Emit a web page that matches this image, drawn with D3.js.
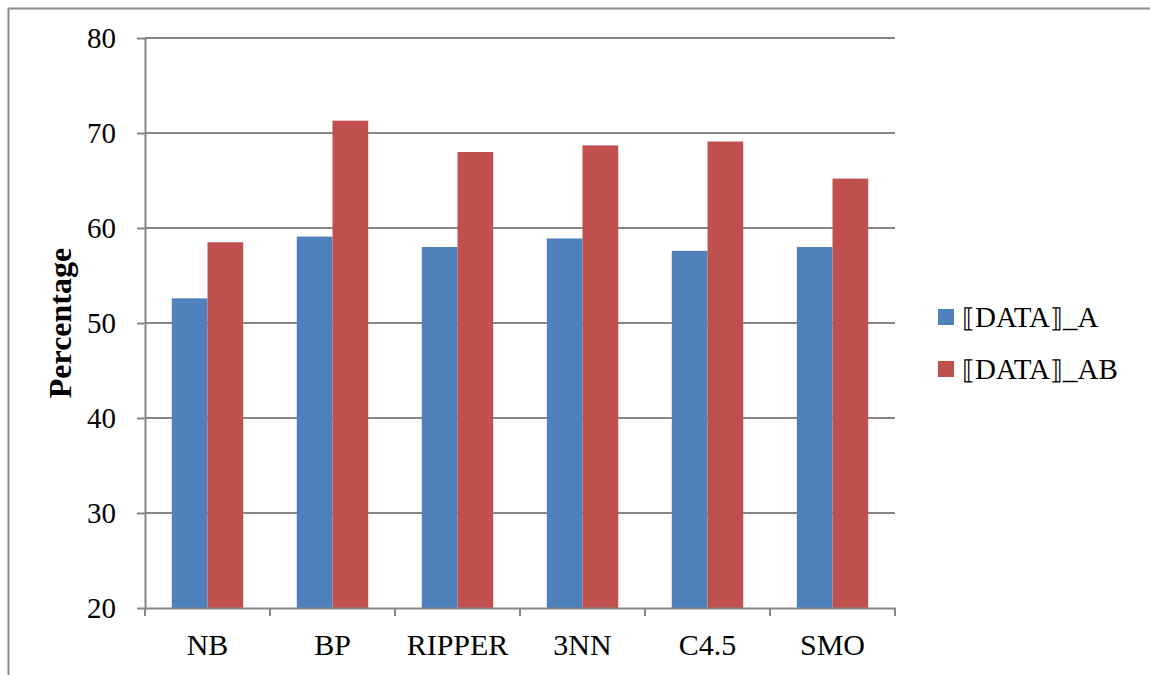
<!DOCTYPE html>
<html>
<head>
<meta charset="utf-8">
<script src="https://cdn.jsdelivr.net/npm/d3@7"></script>
<style>
  html, body { margin: 0; padding: 0; background: #fff; }
  svg text { font-family: "Liberation Serif", "Times New Roman", serif; fill: #000; }
</style>
</head>
<body>
<svg id="chart" width="1150" height="675"></svg>
<script>
// ── Data ─────────────────────────────────────────────────────────────
const categories = ["NB", "BP", "RIPPER", "3NN", "C4.5", "SMO"];
const seriesNames = ["DATA_A", "DATA_AB"];   // shown as ⟦DATA⟧_A, ⟦DATA⟧_AB
const dataA  = [52.6, 59.1, 58.0, 58.9, 57.6, 58.0];
const dataAB = [58.5, 71.3, 68.0, 68.7, 69.1, 65.2];
const yTicks = [20, 30, 40, 50, 60, 70, 80];

const colors = ["#4F81BD", "#C0504D"];
const serif = "'Liberation Serif', 'Times New Roman', serif";
const W = 1150, H = 675;
const plot = { left: 145, right: 895, top: 38, bottom: 608 };

const svg = d3.select("#chart");

// outer frame (chart border, cropped on right/bottom)
svg.append("path")
    .attr("d", `M8.5,${H} L8.5,8.5 L${W},8.5`)
    .attr("fill", "none").attr("stroke", "#8c8c8c").attr("stroke-width", 2);

const x = d3.scaleBand().domain(categories).range([plot.left, plot.right]);
const groupW = x.bandwidth() * 2 / 3.5;           // gap width 150%
const xs = d3.scaleBand().domain([0, 1]).range([0, groupW]);
const y = d3.scaleLinear().domain([20, 80]).range([plot.bottom, plot.top]);

// ── Gridlines ────────────────────────────────────────────────────────
svg.append("g").selectAll("line")
    .data(yTicks.slice(1))
    .enter().append("line")
    .attr("x1", plot.left).attr("x2", plot.right)
    .attr("y1", d => y(d)).attr("y2", d => y(d))
    .attr("stroke", "#868686").attr("stroke-width", 2);

// ── Bars ─────────────────────────────────────────────────────────────
const rows = categories.map((c, i) => ({ cat: c, vals: [dataA[i], dataAB[i]] }));
const groups = svg.append("g").selectAll("g")
    .data(rows).enter().append("g")
    .attr("transform", d => `translate(${x(d.cat) + (x.bandwidth() - groupW) / 2},0)`);
groups.selectAll("rect")
    .data(d => d.vals.map((v, k) => ({ v, k })))
    .enter().append("rect")
    .attr("x", d => xs(d.k))
    .attr("width", xs.bandwidth())
    .attr("y", d => y(d.v))
    .attr("height", d => y(20) - y(d.v))
    .attr("fill", d => colors[d.k]);

// ── Axes ─────────────────────────────────────────────────────────────
const yAxis = svg.append("g")
    .attr("transform", `translate(${plot.left},0)`)
    .call(d3.axisLeft(y).tickValues(yTicks).tickSize(8).tickPadding(21).tickSizeOuter(0));
yAxis.attr("font-family", serif).attr("font-size", 29);
yAxis.select(".domain").attr("stroke", "#868686").attr("stroke-width", 2);
yAxis.selectAll(".tick line").attr("stroke", "#868686").attr("stroke-width", 2);
yAxis.selectAll(".tick text").style("font-family", serif).attr("dy", "0.34em");

const xAxis = svg.append("g")
    .attr("transform", `translate(0,${plot.bottom})`)
    .call(d3.axisBottom(x).tickSize(0).tickPadding(26));
xAxis.attr("font-family", serif).attr("font-size", 30);
xAxis.select(".domain").attr("stroke", "#868686").attr("stroke-width", 2);
xAxis.selectAll(".tick text").style("font-family", serif);
// category boundary ticks
svg.append("g").selectAll("line")
    .data(d3.range(categories.length + 1))
    .enter().append("line")
    .attr("x1", i => plot.left + i * x.step()).attr("x2", i => plot.left + i * x.step())
    .attr("y1", plot.bottom).attr("y2", plot.bottom + 8)
    .attr("stroke", "#868686").attr("stroke-width", 2);

// y label
svg.append("text")
    .attr("transform", `translate(71,${(plot.top + plot.bottom) / 2}) rotate(-90)`)
    .attr("text-anchor", "middle")
    .style("font-family", serif)
    .attr("font-size", 32).attr("font-weight", "bold")
    .text("Percentage");

// ── Legend ───────────────────────────────────────────────────────────
const legend = svg.append("g").attr("transform", "translate(938,309)");
seriesNames.forEach((name, k) => {
    const [head, tail] = name.split("_");
    legend.append("rect")
        .attr("x", 0).attr("y", k * 52)
        .attr("width", 16).attr("height", 16)
        .attr("fill", colors[k]);
    const t = legend.append("text")
        .attr("x", 24).attr("y", k * 52 + 8)
        .attr("dy", "0.35em")
        .style("font-family", serif)
        .attr("font-size", 29);
    t.append("tspan").style("font-family", "'DejaVu Serif', serif").attr("font-size", 26).text("\u27E6");
    t.append("tspan").style("font-family", serif).text(head);
    t.append("tspan").style("font-family", "'DejaVu Serif', serif").attr("font-size", 26).text("\u27E7");
    t.append("tspan").style("font-family", serif).text("_" + tail);
});
</script>
</body>
</html>
